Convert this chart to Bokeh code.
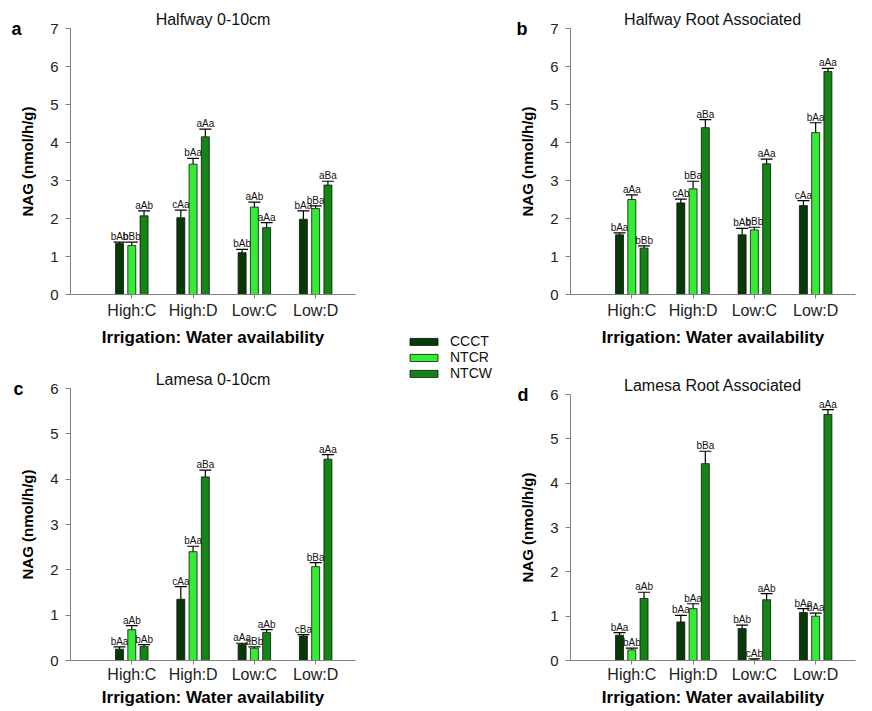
import numpy as np
from bokeh.plotting import figure
from bokeh.models import ColumnDataSource, Range1d, FixedTicker, Whisker, TeeHead, LinearAxis
from bokeh.layouts import row, column
from bokeh.core.properties import value
from bokeh.embed import file_html
from bokeh.resources import INLINE

# ---- data -------------------------------------------------------------
groups = ["High:C", "High:D", "Low:C", "Low:D"]
treatments = ["CCCT", "NTCR", "NTCW"]
colors = ["#073a07", "#33ec33", "#148414"]

# Halfway 0-10cm
a_ccct = [1.34, 2.02, 1.10, 1.98]
a_ntcr = [1.29, 3.43, 2.30, 2.26]
a_ntcw = [2.07, 4.15, 1.76, 2.88]
a_ccct_err = [0.04, 0.20, 0.09, 0.22]
a_ntcr_err = [0.09, 0.15, 0.13, 0.07]
a_ntcw_err = [0.13, 0.20, 0.13, 0.10]
a_ccct_lab = ["bAb", "cAa", "bAb", "bAa"]
a_ntcr_lab = ["bBb", "bAa", "aAb", "bBa"]
a_ntcw_lab = ["aAb", "aAa", "aAa", "aBa"]

# Halfway Root Associated
b_ccct = [1.57, 2.41, 1.57, 2.34]
b_ntcr = [2.50, 2.78, 1.70, 4.26]
b_ntcw = [1.22, 4.39, 3.44, 5.87]
b_ccct_err = [0.05, 0.10, 0.17, 0.13]
b_ntcr_err = [0.12, 0.20, 0.07, 0.26]
b_ntcw_err = [0.06, 0.21, 0.12, 0.08]
b_ccct_lab = ["bAa", "cAb", "bAb", "cAa"]
b_ntcr_lab = ["aAa", "bBa", "bBb", "bAa"]
b_ntcw_lab = ["bBb", "aBa", "aAa", "aAa"]

# Lamesa 0-10cm
c_ccct = [0.25, 1.35, 0.36, 0.54]
c_ntcr = [0.68, 2.40, 0.27, 2.07]
c_ntcw = [0.31, 4.05, 0.62, 4.44]
c_ccct_err = [0.05, 0.28, 0.02, 0.03]
c_ntcr_err = [0.09, 0.12, 0.03, 0.09]
c_ntcw_err = [0.04, 0.15, 0.06, 0.10]
c_ccct_lab = ["bAa", "cAa", "aAa", "cBa"]
c_ntcr_lab = ["aAb", "bAa", "aBb", "bBa"]
c_ntcw_lab = ["bAb", "aBa", "aAb", "aAa"]

# Lamesa Root Associated
d_ccct = [0.57, 0.87, 0.72, 1.08]
d_ntcr = [0.24, 1.17, 0.02, 1.00]
d_ntcw = [1.40, 4.44, 1.37, 5.55]
d_ccct_err = [0.06, 0.15, 0.08, 0.09]
d_ntcr_err = [0.04, 0.11, 0.02, 0.07]
d_ntcw_err = [0.14, 0.28, 0.14, 0.11]
d_ccct_lab = ["bAa", "bAa", "bAb", "bAa"]
d_ntcr_lab = ["bAb", "bAa", "cAb", "bAa"]
d_ntcw_lab = ["aAb", "bBa", "aAb", "aAa"]

FONT = "Liberation Sans"
AXIS_GREY = "#808080"
OFFSETS = [-0.2, 0.0, 0.2]
BAR_W = 0.13


def make_panel(title, letter, letter_shift, ymax, series, errors, labels,
               width, height, top, bottom, left, right, lab_standoff, title_standoff):
    p = figure(width=width, height=height, output_backend="svg",
               toolbar_location=None,
               x_range=Range1d(0, 4.65), y_range=Range1d(0, ymax),
               min_border_top=top, min_border_bottom=bottom,
               min_border_left=left, min_border_right=right)
    p.outline_line_color = None
    p.xgrid.visible = False
    p.ygrid.visible = False

    pos = np.arange(1, len(groups) + 1)
    for vals, errs, labs, off, col in zip(series, errors, labels, OFFSETS, colors):
        vals = np.asarray(vals, dtype=float)
        src = ColumnDataSource(dict(x=pos + off, top=vals,
                                    upper=vals + np.asarray(errs),
                                    lab=labs))
        p.vbar(x="x", top="top", width=BAR_W, source=src,
               fill_color=col, line_color="#111111", line_width=0.8)
        p.add_layout(Whisker(base="x", lower="top", upper="upper", source=src,
                             line_color="black", line_width=1.2,
                             lower_head=None,
                             upper_head=TeeHead(size=12, line_color="black",
                                                line_width=1.2)))
        p.text(x="x", y="upper", text="lab", source=src,
               text_align="center", text_baseline="bottom",
               text_font=value(FONT), text_font_size="10px",
               text_color="#111111")

    # title
    p.title.text = title
    p.title.align = "center"
    p.title.text_font = FONT
    p.title.text_font_style = "normal"
    p.title.text_font_size = "16px"
    p.title.text_color = "#111111"
    p.title.standoff = 2

    # axes
    for ax in (p.xaxis[0], p.yaxis[0]):
        ax.axis_line_color = AXIS_GREY
        ax.major_tick_line_color = AXIS_GREY
        ax.minor_tick_line_color = None
        ax.major_tick_in = 0
        ax.major_label_text_font = FONT
        ax.major_label_text_color = "#222222"
        ax.axis_label_text_font = FONT
        ax.axis_label_text_font_style = "bold"
        ax.axis_label_text_color = "black"

    xa = p.xaxis[0]
    xa.ticker = FixedTicker(ticks=list(pos))
    xa.major_label_overrides = {int(i): g for i, g in zip(pos, groups)}
    xa.major_tick_out = 4
    xa.major_label_standoff = lab_standoff
    xa.major_label_text_font_size = "16px"
    xa.axis_label = "Irrigation: Water availability"
    xa.axis_label_text_font_size = "17px"
    xa.axis_label_standoff = title_standoff

    ya = p.yaxis[0]
    ya.ticker = FixedTicker(ticks=list(range(0, ymax + 1)))
    ya.major_tick_out = 5
    ya.major_label_standoff = 7
    ya.major_label_text_font_size = "15px"
    ya.axis_label = "NAG (nmol/h/g)"
    ya.axis_label_text_font_size = "15px"
    ya.axis_label_standoff = 11

    # panel letter: an outer, line-less left axis with one label at the top
    tag = LinearAxis(ticker=FixedTicker(ticks=[ymax]),
                     major_label_overrides={ymax: letter},
                     axis_line_color=None, major_tick_line_color=None,
                     minor_tick_line_color=None, major_tick_out=0,
                     major_tick_in=0, major_label_standoff=-letter_shift,
                     major_label_text_font=FONT,
                     major_label_text_font_style="bold",
                     major_label_text_font_size="18px",
                     major_label_text_color="black")
    p.add_layout(tag, "left")
    return p


pa = make_panel("Halfway 0-10cm", "a", 5, 7,
                [a_ccct, a_ntcr, a_ntcw], [a_ccct_err, a_ntcr_err, a_ntcw_err],
                [a_ccct_lab, a_ntcr_lab, a_ntcw_lab],
                370, 350, 28, 56, 70, 15, 3, 6)
pb = make_panel("Halfway Root Associated", "b", 11, 7,
                [b_ccct, b_ntcr, b_ntcw], [b_ccct_err, b_ntcr_err, b_ntcw_err],
                [b_ccct_lab, b_ntcr_lab, b_ntcw_lab],
                372, 350, 28, 56, 70, 17, 3, 6)
pc = make_panel("Lamesa 0-10cm", "c", 7, 6,
                [c_ccct, c_ntcr, c_ntcw], [c_ccct_err, c_ntcr_err, c_ntcw_err],
                [c_ccct_lab, c_ntcr_lab, c_ntcw_lab],
                370, 361, 38, 51, 70, 15, 1, 2)
pd_ = make_panel("Lamesa Root Associated", "d", 12, 6,
                 [d_ccct, d_ntcr, d_ntcw], [d_ccct_err, d_ntcr_err, d_ntcw_err],
                 [d_ccct_lab, d_ntcr_lab, d_ntcw_lab],
                 372, 361, 44, 51, 70, 17, 1, 2)

# shared legend in the middle column; the renderers carry no drawable point
leg = figure(width=130, height=711, output_backend="svg", toolbar_location=None,
             x_axis_location=None, y_axis_location=None,
             x_range=Range1d(0, 1), y_range=Range1d(0, 1), min_border=0)
leg.outline_line_color = None
leg.xgrid.visible = False
leg.ygrid.visible = False
for name, col in zip(treatments, colors):
    leg.vbar(x=[np.nan], top=[np.nan], width=0.1, fill_color=col,
             line_color="#111111", line_width=0.8, legend_label=name)
lg = leg.legend[0]
lg.location = (36, 330)
lg.margin = 0
lg.padding = 0
lg.border_line_color = None
lg.background_fill_alpha = 0
lg.glyph_width = 35
lg.glyph_height = 9
lg.label_height = 10
lg.spacing = 0
lg.label_standoff = 9
lg.label_text_font = FONT
lg.label_text_font_size = "14px"
lg.label_text_color = "#111111"

layout = row(column(pa, pc), leg, column(pb, pd_))

open("out.html", "w").write(file_html(layout, INLINE))
